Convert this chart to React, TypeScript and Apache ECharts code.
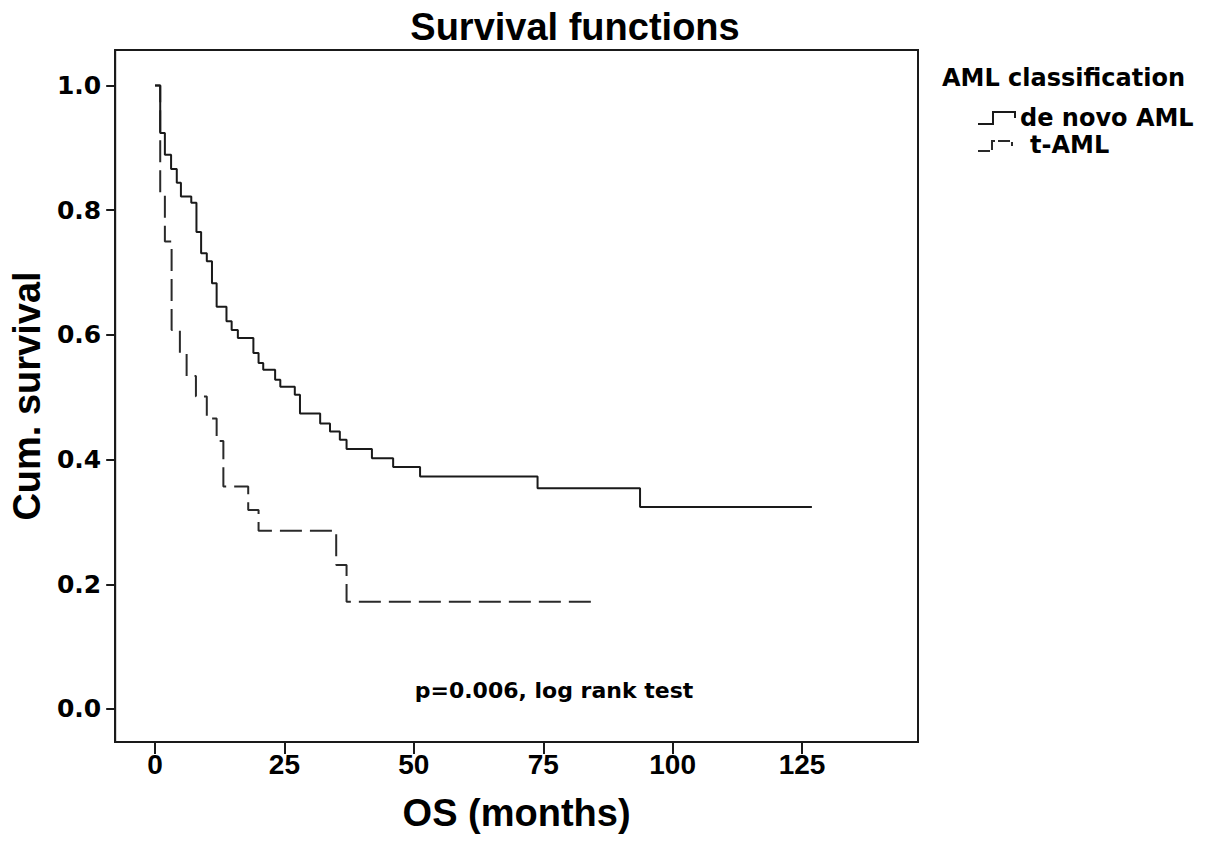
import React, { useEffect, useRef } from "react";
import * as echarts from "echarts";

const deNovoTimes = [0, 1.0, 1.9, 3.1, 4.2, 5.0, 7.0, 8.0, 8.9, 10.0, 11.0, 11.9, 13.8, 14.8, 16.0, 19.0, 20.0, 20.9, 23.2, 24.2, 27.0, 28.0, 31.9, 33.8, 35.7, 37.0, 41.9, 46.0, 51.2, 73.9, 93.7, 126.9];
const deNovoSurv = [1.0, 0.924, 0.889, 0.866, 0.844, 0.822, 0.812, 0.765, 0.731, 0.718, 0.683, 0.645, 0.622, 0.608, 0.595, 0.571, 0.555, 0.544, 0.528, 0.517, 0.504, 0.474, 0.458, 0.445, 0.432, 0.417, 0.402, 0.388, 0.373, 0.354, 0.324, 0.324];

const tAmlTimes = [0, 1.0, 1.9, 3.2, 4.8, 6.1, 7.9, 10.0, 11.9, 13.2, 18.0, 20.0, 35.0, 37.0, 85.0];
const tAmlSurv = [1.0, 0.827, 0.75, 0.608, 0.571, 0.534, 0.501, 0.466, 0.43, 0.357, 0.319, 0.286, 0.231, 0.172, 0.172];

const xTicks = [0, 25, 50, 75, 100, 125];
const yTicks = [0, 0.2, 0.4, 0.6, 0.8, 1.0];

const seriesNames = ["de novo AML", "t-AML"];
const titleText = "Survival functions";
const legendTitle = "AML classification";
const pText = "p=0.006, log rank test";

export default function App() {
  const ref = useRef<HTMLDivElement>(null);
  useEffect(() => {
    if (!ref.current) return;
    const chart = echarts.init(ref.current, undefined, { renderer: "svg" });
    const bold = "Liberation Sans, Arial, sans-serif";
    const wide = "DejaVu Sans, sans-serif";
    chart.setOption({
      animation: false,
      backgroundColor: "#ffffff",
      grid: {
        left: 115,
        right: 287,
        top: 50,
        bottom: 105,
        show: true,
        borderColor: "#1a1a1a",
        borderWidth: 2,
        backgroundColor: "transparent",
      },
      xAxis: {
        type: "value",
        min: -7.7,
        max: 147.4,
        name: "OS (months)",
        nameLocation: "middle",
        nameGap: 52,
        nameTextStyle: { fontFamily: bold, fontWeight: "bold", fontSize: 38, color: "#000" },
        axisLine: { show: true, onZero: false, lineStyle: { color: "#1a1a1a", width: 2 } },
        axisTick: { show: true, customValues: xTicks, length: 12, lineStyle: { color: "#1a1a1a", width: 2 } },
        axisLabel: {
          customValues: xTicks,
          margin: 8,
          fontFamily: bold,
          fontWeight: "bold",
          fontSize: 28,
          color: "#000",
        },
        splitLine: { show: false },
      },
      yAxis: {
        type: "value",
        min: -0.053,
        max: 1.057,
        name: "Cum. survival",
        nameLocation: "middle",
        nameGap: 68,
        nameTextStyle: { fontFamily: bold, fontWeight: "bold", fontSize: 38, color: "#000" },
        axisLine: { show: true, onZero: false, lineStyle: { color: "#1a1a1a", width: 2 } },
        axisTick: { show: true, customValues: yTicks, length: 9, lineStyle: { color: "#1a1a1a", width: 2 } },
        axisLabel: {
          customValues: yTicks,
          margin: 14,
          formatter: (v: number) => v.toFixed(1),
          fontFamily: wide,
          fontWeight: "bold",
          fontSize: 25,
          color: "#000",
        },
        splitLine: { show: false },
      },
      series: [
        {
          name: seriesNames[0],
          type: "line",
          step: "end",
          showSymbol: false,
          symbol: "none",
          data: deNovoTimes.map((t, i) => [t, deNovoSurv[i]]),
          lineStyle: { color: "#1a1a1a", width: 2 },
          z: 3,
        },
        {
          name: seriesNames[1],
          type: "line",
          step: "end",
          showSymbol: false,
          symbol: "none",
          data: tAmlTimes.map((t, i) => [t, tAmlSurv[i]]),
          lineStyle: { color: "#2a2a2a", width: 2, type: [22, 8] },
          z: 2,
        },
      ],
      graphic: [
        {
          type: "text",
          x: 575,
          y: 27,
          style: { text: titleText, font: `bold 38px ${bold}`, fill: "#000", align: "center", verticalAlign: "middle" },
        },
        {
          type: "text",
          x: 554,
          y: 690,
          style: { text: pText, font: `bold 22px ${wide}`, fill: "#000", align: "center", verticalAlign: "middle" },
        },
        {
          type: "text",
          x: 942,
          y: 78,
          style: { text: legendTitle, font: `bold 24px ${wide}`, fill: "#000", align: "left", verticalAlign: "middle" },
        },
        {
          type: "polyline",
          shape: { points: [[978, 124], [993, 124], [993, 112], [1015, 112], [1015, 118]] },
          style: { stroke: "#1a1a1a", lineWidth: 2, fill: "none" },
        },
        {
          type: "text",
          x: 1020,
          y: 118,
          style: { text: seriesNames[0], font: `bold 24px ${wide}`, fill: "#000", align: "left", verticalAlign: "middle" },
        },
        {
          type: "polyline",
          shape: { points: [[978, 151], [992, 151], [992, 141], [1012, 141], [1012, 146]] },
          style: { stroke: "#2a2a2a", lineWidth: 2, fill: "none", lineDash: [12, 3] },
        },
        {
          type: "text",
          x: 1030,
          y: 145,
          style: { text: seriesNames[1], font: `bold 24px ${wide}`, fill: "#000", align: "left", verticalAlign: "middle" },
        },
      ],
    });
    return () => chart.dispose();
  }, []);
  return <div ref={ref} style={{ position: "absolute", left: 0, top: 0, width: 1205, height: 847 }} />;
}
